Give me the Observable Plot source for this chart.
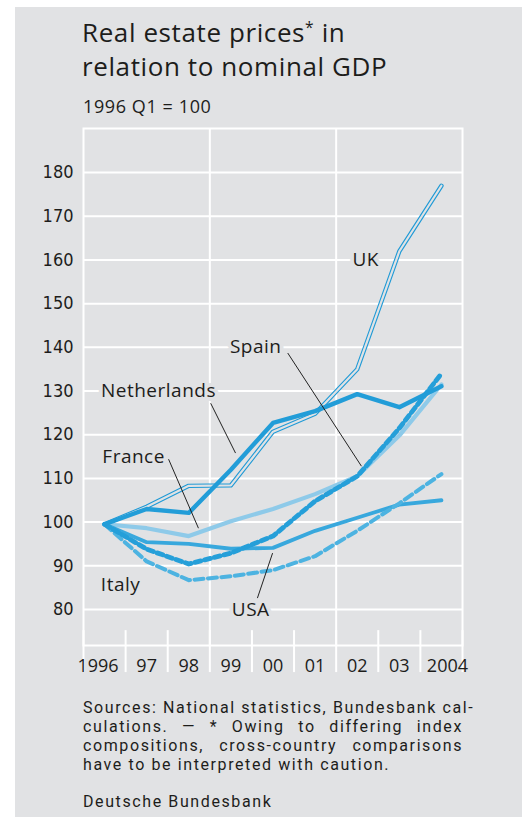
<!DOCTYPE html>
<html><head><meta charset="utf-8">
<script src="https://cdn.jsdelivr.net/npm/d3@7"></script>
<script src="https://cdn.jsdelivr.net/npm/@observablehq/plot@0.6"></script>
<style>
html,body{margin:0;padding:0;background:#fff;width:522px;height:817px;overflow:hidden;}
body{position:relative;font-family:"Open Sans",sans-serif;color:#1d1d1b;}
#panel{position:absolute;left:15px;top:7px;width:507px;height:810px;background:#e1e2e4;}
#title{position:absolute;left:82px;top:17px;font-size:26px;line-height:30px;letter-spacing:0.6px;white-space:nowrap;}
#title sup{font-size:0.6em;vertical-align:0;position:relative;top:-0.55em;}
#sub{position:absolute;left:83px;top:94px;font-size:18px;letter-spacing:0.6px;white-space:nowrap;}
#chart{position:absolute;left:0;top:120px;}
#chart g[aria-label="text"] text{letter-spacing:0.5px;}
#chart g[aria-label="y-axis tick label"] text{font-family:"Liberation Sans Narrow","DejaVu Sans Condensed",sans-serif;}
#note{position:absolute;left:83px;top:698px;width:380px;font-family:Roboto,sans-serif;font-size:16px;line-height:19px;letter-spacing:1.6px;}
#note div{text-align:justify;text-align-last:justify;white-space:nowrap;height:19px;}
#note div.last{text-align-last:left;}
#src{position:absolute;left:83px;top:792px;font-family:Roboto,sans-serif;font-size:16px;line-height:19px;letter-spacing:1.6px;white-space:nowrap;}
</style></head>
<body>
<div id="panel"></div>
<div id="title">Real estate prices<sup>*</sup> in<br>relation to nominal GDP</div>
<div id="sub">1996 Q1 = 100</div>
<div id="chart"></div>
<div id="note">
<div>Sources: National statistics, Bundesbank cal-</div>
<div>culations. — * Owing to differing index</div>
<div>compositions, cross-country comparisons</div>
<div class="last">have to be interpreted with caution.</div>
</div>
<div id="src">Deutsche Bundesbank</div>
<script>
// ---- data ----
const years = [1996, 1997, 1998, 1999, 2000, 2001, 2002, 2003, 2004];
const xTickLabels = ["1996", "97", "98", "99", "00", "01", "02", "03", "2004"];
const yTicks = [80, 90, 100, 110, 120, 130, 140, 150, 160, 170, 180];
const uk          = [99.5, 103.5, 108.3, 108.4, 120.7, 124.8, 135.0, 162.0, 177.0];
const netherlands = [99.5, 103.0, 102.1, 112.0, 122.7, 125.4, 129.3, 126.3, 131.1];
const spain       = [99.5, 93.8, 90.4, 92.9, 96.8, 104.8, 110.5, 121.5, 134.0];
const france      = [99.5, 98.6, 96.8, 100.2, 103.0, 106.4, 110.5, 119.8, 131.5];
const usa         = [99.5, 95.4, 95.0, 93.9, 94.1, 98.0, 101.0, 104.0, 105.0];
const italy       = [99.5, 91.0, 86.7, 87.6, 89.0, 92.2, 98.0, 104.3, 111.0];
const labelNames = ["UK", "Spain", "Netherlands", "France", "Italy", "USA"];
const labelX = [2002.70, 2000.09, 1997.78, 1997.19, 1996.88, 1999.97];
const labelY = [160.0, 140.0, 130.0, 115.0, 85.6, 80.0];
const leaderX1 = [2000.85, 1999.02, 1998.02, 2000.49];
const leaderY1 = [138.7, 127.2, 114.4, 92.9];
const leaderX2 = [2002.60, 1999.61, 1998.73, 2000.13];
const leaderY2 = [112.8, 115.8, 98.6, 82.6];

// ---- build ----
const BG = "#e1e2e4";
const rows = (vals) => years.map((yr, i) => ({x: yr + 0.5, y: vals[i]}));
const labels = labelNames.map((t, i) => ({t, x: labelX[i], y: labelY[i]}));
const leaders = leaderX1.map((d, i) => ({x1: leaderX1[i], y1: leaderY1[i], x2: leaderX2[i], y2: leaderY2[i]}));
const yMin = 71.75, yMax = 190.1;
const seps = years.slice(1).concat([1996, 2005]);
const mid = years.slice(1, -1);
const fmt = (v) => xTickLabels[years.indexOf(Math.round(v - 0.5))];

const chart = Plot.plot({
  width: 522, height: 570,
  marginLeft: 83, marginRight: 60, marginTop: 8, marginBottom: 45,
  style: {background: "transparent", fontFamily: "Open Sans, sans-serif", color: "#1d1d1b"},
  x: {domain: [1996, 2005]},
  y: {domain: [yMin, yMax]},
  marks: [
    Plot.gridY(yTicks, {stroke: "white", strokeOpacity: 1, strokeWidth: 2}),
    Plot.gridX([1999, 2002], {stroke: "white", strokeOpacity: 1, strokeWidth: 2}),
    Plot.ruleX(seps, {y1: yMin - 6.2, y2: yMin + 3.4, stroke: "white", strokeWidth: 2}),
    Plot.frame({stroke: "white", strokeWidth: 2}),
    Plot.axisY(yTicks, {tickSize: 0, tickPadding: 10, fontSize: 18, label: null}),
    Plot.axisX(mid.map(d => d + 0.5), {tickSize: 0, tickPadding: 14, fontSize: 18, label: null, tickFormat: fmt}),
    Plot.axisX([1996.5], {tickSize: 0, tickPadding: 14, fontSize: 18, label: null, tickFormat: fmt, dx: -6.5}),
    Plot.axisX([2004.5], {tickSize: 0, tickPadding: 14, fontSize: 18, label: null, tickFormat: fmt, dx: 6}),
    // UK double line
    Plot.line(rows(uk), {x: "x", y: "y", stroke: "#1f9ad6", strokeWidth: 4.4}),
    Plot.line(rows(uk), {x: "x", y: "y", stroke: BG, strokeWidth: 2.2}),
    Plot.line(rows(france), {x: "x", y: "y", stroke: "#8ecae9", strokeWidth: 4.2}),
    Plot.line(rows(usa), {x: "x", y: "y", stroke: "#38a8dd", strokeWidth: 3.8}),
    Plot.line(rows(italy), {x: "x", y: "y", stroke: "#4db3e1", strokeWidth: 4, strokeDasharray: "9 4.5"}),
    Plot.line(rows(spain), {x: "x", y: "y", stroke: "#259fd9", strokeWidth: 4.8, strokeDasharray: "6 4"}),
    Plot.line(rows(netherlands), {x: "x", y: "y", stroke: "#229dd8", strokeWidth: 4.4}),
    Plot.link(leaders, {x1: "x1", y1: "y1", x2: "x2", y2: "y2", stroke: "#222", strokeWidth: 1}),
    Plot.text(labels, {x: "x", y: "y", text: "t", fontSize: 19, fill: "#1d1d1b", stroke: BG, strokeWidth: 8})
  ]
});
document.getElementById("chart").appendChild(chart);
</script>
</body></html>
